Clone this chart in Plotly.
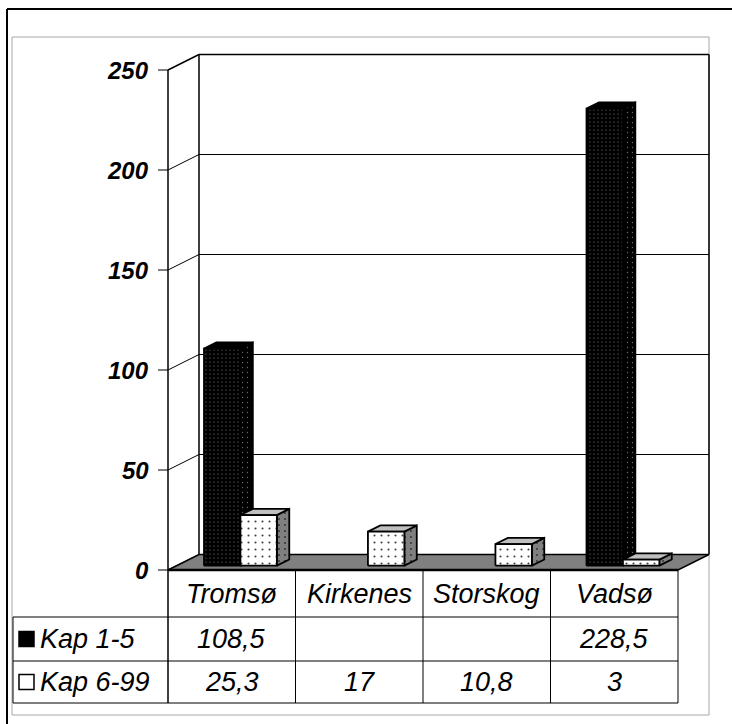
import plotly.graph_objects as go

# ---- data -------------------------------------------------------------
categories = ["Tromsø", "Kirkenes", "Storskog", "Vadsø"]
series_names = ["Kap 1-5", "Kap 6-99"]
kap_1_5 = [108.5, None, None, 228.5]
kap_6_99 = [25.3, 17, 10.8, 3]
y_ticks = [0, 50, 100, 150, 200, 250]

# ---- geometry ---------------------------------------------------------
W, H = 732, 724
X_PX0, X_SCALE = 168, 127.5   # pixel of category origin, px per category
Y_PX0, Y_SCALE = 570, 2.0     # pixel of value 0, px per value unit


def xd(px):
    return (px - X_PX0) / X_SCALE


def yd(py):
    return (Y_PX0 - py) / Y_SCALE


def xp(px):
    return px / W


def yp(py):
    return 1 - py / H


DEPTH_X = 31 / X_SCALE        # oblique offset of the back wall
DEPTH_Y = 15.5 / Y_SCALE
Z_FRONT, Z_BACK = 0.28, 0.68  # bar depth within the floor
GAP = 1.5                     # gap width relative to one bar
BAR_W = 1 / (2 + GAP)
N = len(categories)
Y_MAX = y_ticks[-1]

FONT = "Liberation Sans"
TABLE_SIZE = 27

fig = go.Figure()
shapes = []
annotations = []


def line(x0, y0, x1, y1, color="black", width=1, ref="data"):
    s = dict(type="line", x0=x0, y0=y0, x1=x1, y1=y1,
             line=dict(color=color, width=width), layer="below")
    if ref == "paper":
        s.update(xref="paper", yref="paper")
    else:
        s.update(xref="x", yref="y")
    shapes.append(s)


# ---- walls, gridlines, floor -----------------------------------------
for v in y_ticks:
    line(DEPTH_X, v + DEPTH_Y, N + DEPTH_X, v + DEPTH_Y,
         width=1.5 if v == Y_MAX else 1)
    line(0, v, DEPTH_X, v + DEPTH_Y, width=1.5 if v == Y_MAX else 1)
    line(xd(158), v, 0, v, width=1)
line(DEPTH_X, DEPTH_Y, DEPTH_X, Y_MAX + DEPTH_Y, width=1.5)
line(N + DEPTH_X, DEPTH_Y, N + DEPTH_X, Y_MAX + DEPTH_Y, width=1.5)

shapes.append(dict(
    type="path", xref="x", yref="y", layer="below",
    path=f"M 0 0 L {N} 0 L {N + DEPTH_X} {DEPTH_Y} L {DEPTH_X} {DEPTH_Y} Z",
    fillcolor="#808080", line=dict(color="black", width=1.5)))
line(0, 0, N, 0, width=2.5)

# front value axis continues down through the table
line(0, Y_MAX, 0, yd(703), width=1.5)

# ---- table ------------------------------------------------------------
ROW_HEAD, ROW_1, ROW_2, ROW_END = 570, 617, 661, 703
TABLE_LEFT = 13
for r in (ROW_1, ROW_2, ROW_END):
    line(xd(TABLE_LEFT), yd(r), N, yd(r), width=1)
line(xd(TABLE_LEFT), yd(ROW_1), xd(TABLE_LEFT), yd(ROW_END), width=1)
for i in range(1, N + 1):
    line(i, 0, i, yd(ROW_END), width=1)

# ---- frame ------------------------------------------------------------
line(xp(7), yp(9), 1, yp(9), width=2, ref="paper")
line(xp(7), 0, xp(7), yp(9), width=2, ref="paper")
shapes.append(dict(type="rect", xref="paper", yref="paper", layer="below",
                   x0=xp(12), x1=xp(709), y0=yp(715), y1=yp(37),
                   line=dict(color="#a8a8a8", width=1)))

# ---- bars -------------------------------------------------------------
styles = [
    dict(front=("black", "#8a8a8a", 4, 0.07),
         side=("black", "#6a6a6a", 5, 0.05),
         top=("black", "black", 4, 0.0)),
    dict(front=("white", "#404040", 7, 0.07),
         side=("#808080", "#303030", 6, 0.08),
         top=("#c0c0c0", "#c0c0c0", 5, 0.0)),
]


def poly(xs, ys, style):
    bg, fg, size, sol = style
    kw = {}
    if sol > 0:
        kw["fillpattern"] = dict(shape=".", bgcolor=bg, fgcolor=fg,
                                 size=size, solidity=sol, fillmode="replace")
    fig.add_trace(go.Scatter(
        x=xs + [xs[0]], y=ys + [ys[0]], mode="lines", fill="toself",
        fillcolor=bg, line=dict(color="black", width=1.8),
        hoverinfo="skip", showlegend=False, **kw))


ddx = (Z_BACK - Z_FRONT) * DEPTH_X
ddy = (Z_BACK - Z_FRONT) * DEPTH_Y
all_series = [kap_1_5, kap_6_99]
for i in range(N):
    for s, vals in enumerate(all_series):
        v = vals[i]
        if v is None:
            continue
        st = styles[s]
        xl = i + BAR_W * GAP / 2 + s * BAR_W + Z_FRONT * DEPTH_X
        xr = xl + BAR_W
        y0 = Z_FRONT * DEPTH_Y
        y1 = y0 + v
        poly([xr, xr + ddx, xr + ddx, xr], [y0, y0 + ddy, y1 + ddy, y1], st["side"])
        poly([xl, xr, xr + ddx, xl + ddx], [y1, y1, y1 + ddy, y1 + ddy], st["top"])
        poly([xl, xr, xr, xl], [y0, y0, y1, y1], st["front"])

# ---- texts ------------------------------------------------------------
for v in y_ticks:
    annotations.append(dict(
        x=xd(151), y=v, xref="x", yref="y", xanchor="right", yanchor="middle",
        text=f"<b><i>{v}</i></b>", showarrow=False,
        font=dict(family=FONT, size=24, color="black")))


def fmt(v):
    return "" if v is None else f"{v:g}".replace(".", ",")


for i, cat in enumerate(categories):
    annotations.append(dict(
        x=i + 0.5, y=yd((ROW_HEAD + ROW_1) / 2), xref="x", yref="y",
        text=f"<i>{cat}</i>", showarrow=False,
        font=dict(family=FONT, size=TABLE_SIZE, color="black")))
    for r, (r0, r1) in enumerate([(ROW_1, ROW_2), (ROW_2, ROW_END)]):
        annotations.append(dict(
            x=i + 0.5, y=yd((r0 + r1) / 2), xref="x", yref="y",
            text=f"<i>{fmt(all_series[r][i])}</i>", showarrow=False,
            font=dict(family=FONT, size=TABLE_SIZE, color="black")))

legend_fill = ["black", "white"]
for r, (r0, r1) in enumerate([(ROW_1, ROW_2), (ROW_2, ROW_END)]):
    cy = (r0 + r1) / 2
    shapes.append(dict(type="rect", xref="x", yref="y", layer="above",
                       x0=xd(19), x1=xd(34), y0=yd(cy + 7.5), y1=yd(cy - 7.5),
                       fillcolor=legend_fill[r],
                       line=dict(color="black", width=1.5)))
    annotations.append(dict(
        x=xd(38), y=yd(cy), xref="x", yref="y", xanchor="left",
        text=f"<i>{series_names[r]}</i>", showarrow=False,
        font=dict(family=FONT, size=TABLE_SIZE, color="black")))

fig.update_layout(
    width=W, height=H, margin=dict(l=0, r=0, t=0, b=0),
    paper_bgcolor="white", plot_bgcolor="white",
    xaxis=dict(range=[xd(0), xd(W)], visible=False, fixedrange=True),
    yaxis=dict(range=[yd(H), yd(0)], visible=False, fixedrange=True),
    shapes=shapes, annotations=annotations, showlegend=False,
)

fig.write_html("out.html")
